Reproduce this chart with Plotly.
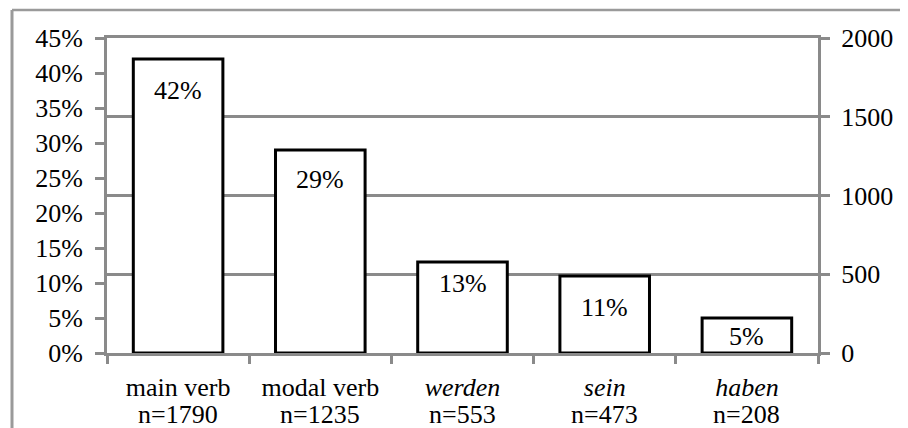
import plotly.graph_objects as go

# categories and values
categories = ["main verb", "modal verb", "werden", "sein", "haben"]
tick_text = ["main verb", "modal verb", "<i>werden</i>", "<i>sein</i>", "<i>haben</i>"]
counts = [1790, 1235, 553, 473, 208]
shares = [42, 29, 13, 11, 5]  # percent of all tokens

# how far below each bar top its label sits (px), as in the original
label_drop = [31, 29, 21, 31, 18]

# the page body keeps its 8px default margin, so the figure is drawn 8px in
OFF = 8
W, H = 908 - OFF, 428 - OFF
ML, MR, MT, MB = 107 - OFF, 90, 38 - OFF, 75
GRAY = "#8a8a8a"
FONT = dict(family="Liberation Serif, Times New Roman, serif", size=26, color="black")

fig = go.Figure()
fig.add_trace(
    go.Bar(
        x=categories,
        y=shares,
        width=0.63,
        marker=dict(color="white", line=dict(color="black", width=3)),
        hoverinfo="skip",
    )
)
# invisible trace just to bring the right-hand count axis to life
fig.add_trace(
    go.Scatter(x=categories, y=counts, yaxis="y2", mode="markers",
               marker=dict(opacity=0), hoverinfo="skip")
)

for cat, share, drop in zip(categories, shares, label_drop):
    fig.add_annotation(x=cat, y=share, text=f"{share}%", showarrow=False,
                       yshift=-drop, yanchor="middle", font=FONT)

for cat, n in zip(categories, counts):
    fig.add_annotation(x=cat, y=0, text=f"n={n}", showarrow=False,
                       yshift=-61, yanchor="middle", font=FONT)

# outer chart frame (top and left edges visible in the crop)
plot_w = W - ML - MR
plot_h = H - MT - MB
x_frame = (12 - OFF - ML) / plot_w
y_frame = 1 + (MT - (10 - OFF)) / plot_h
fig.add_shape(type="line", xref="paper", yref="paper", x0=x_frame, x1=1.2,
              y0=y_frame, y1=y_frame, line=dict(color="#9a9a9a", width=2.5))
fig.add_shape(type="line", xref="paper", yref="paper", x0=x_frame, x1=x_frame,
              y0=y_frame, y1=-1, line=dict(color="#9a9a9a", width=3))

fig.update_layout(
    width=W,
    height=H,
    margin=dict(l=ML, r=MR, t=MT, b=MB),
    paper_bgcolor="white",
    plot_bgcolor="white",
    showlegend=False,
    bargap=0.37,
    font=FONT,
    xaxis=dict(
        type="category",
        tickvals=categories,
        ticktext=tick_text,
        tickson="boundaries",
        ticks="outside",
        ticklen=8,
        tickwidth=3,
        tickcolor=GRAY,
        showline=True,
        mirror=True,  # top line doubles as the 2000 gridline
        linecolor=GRAY,
        linewidth=3,
        showgrid=False,
        ticklabelstandoff=9,
        tickfont=FONT,
        automargin=False,
    ),
    yaxis=dict(
        range=[0, 45],
        tick0=0,
        dtick=5,
        ticksuffix="%",
        ticks="outside",
        ticklen=9,
        tickwidth=3,
        tickcolor=GRAY,
        showline=True,
        linecolor=GRAY,
        linewidth=3,
        showgrid=False,
        zeroline=False,
        ticklabelstandoff=7,
        tickfont=FONT,
        automargin=False,
    ),
    yaxis2=dict(
        overlaying="y",
        side="right",
        range=[0, 2000],
        tick0=0,
        dtick=500,
        ticks="outside",
        ticklen=9,
        tickwidth=3,
        tickcolor=GRAY,
        showline=True,
        linecolor=GRAY,
        linewidth=3,
        showgrid=True,
        gridcolor=GRAY,
        gridwidth=3,
        zeroline=False,
        ticklabelstandoff=6,
        tickfont=FONT,
        automargin=False,
    ),
)

fig.write_html("out.html")
